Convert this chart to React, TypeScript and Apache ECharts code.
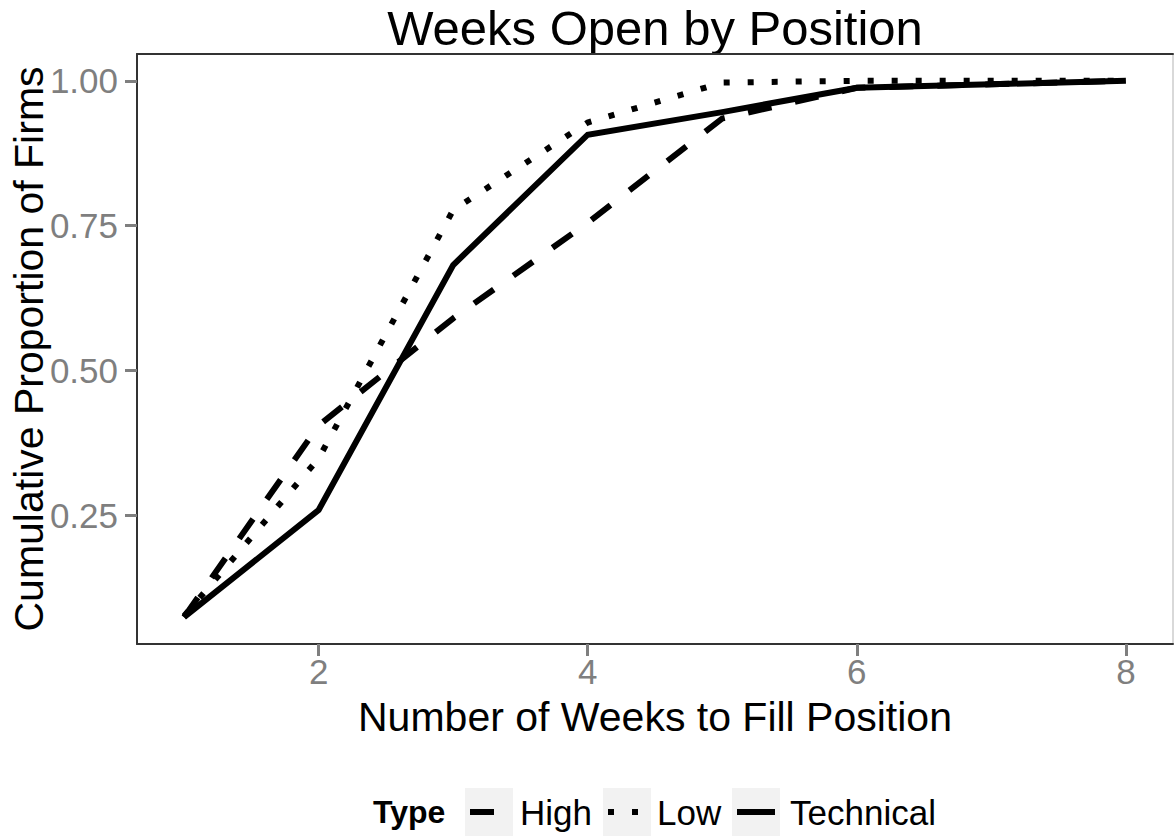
import React, { useEffect, useRef } from "react";
import * as echarts from "echarts";

const weeks = [1, 2, 3, 4, 5, 6, 7, 8];
const high = [0.074, 0.405, 0.59, 0.755, 0.935, 0.988, 0.994, 1.0];
const low = [0.076, 0.348, 0.777, 0.928, 0.997, 1.0, 1.0, 1.0];
const technical = [0.074, 0.259, 0.682, 0.907, 0.946, 0.988, 0.994, 1.0];
const xTicks = [2, 4, 6, 8];
const yTicks = [0.25, 0.5, 0.75, 1.0];
const seriesNames = ["High", "Low", "Technical"];

const FONT = "'Liberation Sans', Arial, Helvetica, sans-serif";
const DASHED = [24, 24];
const DOTTED = [6, 18];

export default function App() {
  const ref = useRef<HTMLDivElement>(null);
  useEffect(() => {
    document.body.style.margin = "0";
    const chart = echarts.init(ref.current!, null, { renderer: "svg" });
    const toPairs = (ys: number[]) => weeks.map((w, i) => [w, ys[i]]);
    const styles = [DASHED, DOTTED, "solid"];
    const dataSets = [high, low, technical];

    // legend drawn as graphic
    const keyBoxes = [465, 603, 732];
    const labelX = [520, 657, 790];
    const legendY = 812;
    const legendEls: any[] = [
      {
        type: "text",
        x: 373,
        y: legendY,
        style: { text: "Type", font: `bold 32px ${FONT}`, fill: "#000", verticalAlign: "middle", align: "left" },
      },
    ];
    seriesNames.forEach((n, i) => {
      legendEls.push({
        type: "rect",
        shape: { x: keyBoxes[i], y: legendY - 24, width: 48, height: 48 },
        style: { fill: "#f2f2f2" },
      });
      const st = styles[i];
      legendEls.push({
        type: "line",
        shape: { x1: keyBoxes[i] + 5, y1: legendY, x2: keyBoxes[i] + 43, y2: legendY },
        style: { stroke: "#000", lineWidth: 6, lineDash: st === "solid" ? null : st, lineCap: "butt" },
      });
      legendEls.push({
        type: "text",
        x: labelX[i],
        y: legendY,
        style: { text: n, font: `35px ${FONT}`, fill: "#000", verticalAlign: "middle", align: "left" },
      });
    });

    chart.setOption({
      animation: false,
      backgroundColor: "#ffffff",
      grid: {
        left: 137,
        top: 54,
        right: 2,
        bottom: 193,
        outerBoundsMode: "none",
        containLabel: false,
        show: true,
        borderColor: "#b3b3b3",
        borderWidth: 1,
        backgroundColor: "#ffffff",
      },
      xAxis: [
        {
          type: "value",
          min: 0.65,
          max: 8.35,
          position: "bottom",
          name: "Number of Weeks to Fill Position",
          nameLocation: "middle",
          nameGap: 52,
          nameMoveOverlap: false,
          nameTextStyle: { fontFamily: FONT, fontSize: 41, color: "#000" },
          axisLine: { show: true, onZero: false, lineStyle: { color: "#333333", width: 2 } },
          axisTick: { show: true, length: 12, customValues: xTicks, lineStyle: { color: "#7f7f7f", width: 3 } },
          axisLabel: {
            customValues: xTicks,
            margin: 10,
            fontFamily: FONT,
            fontSize: 35,
            color: "#7f7f7f",
            formatter: (v: number) => String(Math.round(v)),
          },
          splitLine: { show: false },
        },
        {
          type: "value",
          min: 0.65,
          max: 8.35,
          position: "top",
          axisLine: { show: true, onZero: false, lineStyle: { color: "#333333", width: 2 } },
          axisTick: { show: false },
          axisLabel: { show: false },
          splitLine: { show: false },
        },
      ],
      yAxis: {
        type: "value",
        min: 0.0277,
        max: 1.0463,
        name: "Cumulative Proportion of Firms",
        nameLocation: "middle",
        nameRotate: 90,
        nameGap: 88,
        nameMoveOverlap: false,
        nameTextStyle: { fontFamily: FONT, fontSize: 41, color: "#000" },
        axisLine: { show: true, onZero: false, lineStyle: { color: "#333333", width: 2 } },
        axisTick: { show: true, length: 12, customValues: yTicks, lineStyle: { color: "#7f7f7f", width: 3 } },
        axisLabel: {
          customValues: yTicks,
          margin: 19,
          fontFamily: FONT,
          fontSize: 35,
          color: "#7f7f7f",
          formatter: (v: number) => v.toFixed(2),
        },
        splitLine: { show: false },
      },
      graphic: [
        {
          type: "text",
          x: 655,
          y: 28,
          style: {
            text: "Weeks Open by Position",
            font: `49px ${FONT}`,
            fill: "#000",
            align: "center",
            verticalAlign: "middle",
          },
        },
        ...legendEls,
      ],
      series: seriesNames.map((n, i) => ({
        name: n,
        type: "line",
        xAxisIndex: 0,
        data: toPairs(dataSets[i]),
        showSymbol: false,
        symbol: "none",
        lineStyle: { color: "#000", width: 6, type: styles[i], cap: "butt", join: "miter" },
        z: 3,
      })),
    });
    return () => chart.dispose();
  }, []);
  return <div ref={ref} style={{ width: 1175, height: 837 }} />;
}
